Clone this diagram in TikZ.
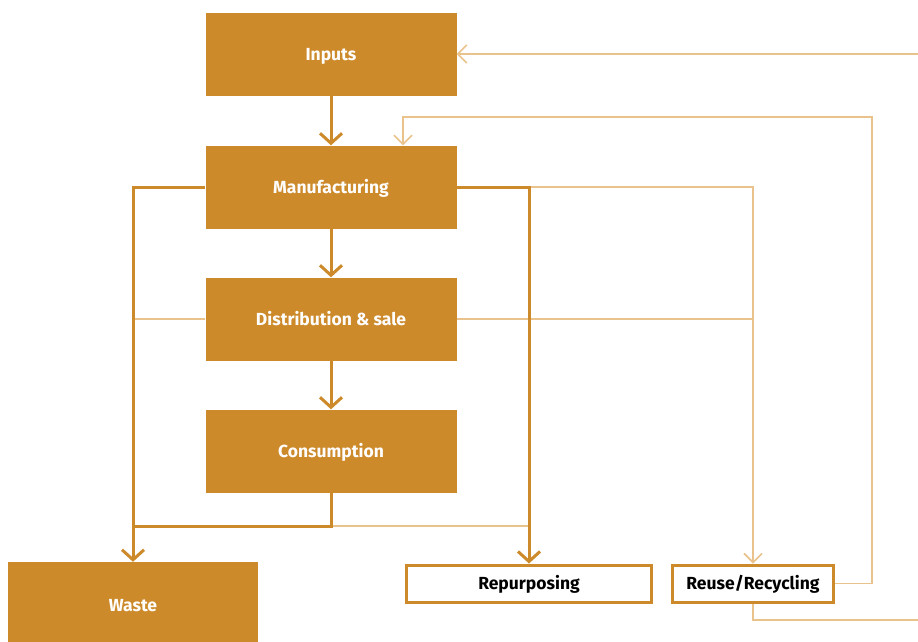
\documentclass[tikz,border=0pt]{standalone}
\usepackage{fontspec}
\setmainfont{Fira Sans}
\usetikzlibrary{arrows.meta}
\definecolor{ochre}{HTML}{CD8A2A}
\definecolor{lightochre}{HTML}{EAC38C}
\tikzset{
    stage/.style={fill=ochre, text=white, font=\bfseries\fontsize{17.5}{20}\selectfont, text height=12pt, text depth=0pt, minimum width=251pt, minimum height=83pt, inner sep=0pt},
    outcome/.style={draw=ochre, line width=3pt, fill=white, text=black, font=\bfseries\fontsize{17.5}{20}\selectfont, text height=12pt, text depth=0pt, minimum height=37pt, inner sep=0pt},
    flow/.style={draw=ochre, line width=3pt, -{Straight Barb[length=10pt,width=22pt,line width=3pt]}},
    flowline/.style={draw=ochre, line width=3pt},
    loop/.style={draw=lightochre, line width=1.6pt},
    looparrow/.style={loop, -{Straight Barb[length=9pt,width=18pt,line width=1.6pt]}}
}
\begin{document}
\begin{tikzpicture}[x=1pt, y=-1pt]
    \useasboundingbox (0,0) rectangle (918,641);
    % Draw nodes
    \node[stage] (inputs) at (331, 54) {Inputs};
    \node[stage] (manuf) at (331, 187) {Manufacturing};
    \node[stage] (dist) at (331, 319) {Distribution \& sale};
    \node[stage] (cons) at (331, 451) {Consumption};
    \node[stage, minimum width=250pt, minimum height=86pt] (waste) at (133, 605) {Waste};
    \node[outcome, minimum width=245pt] (repurp) at (529, 583.5) {Repurposing};
    \node[outcome, minimum width=161pt] (reuse) at (753, 583.5) {Reuse/Recycling};

    \coordinate (cjoin) at (331, 526);
    \coordinate (loopc) at (872, 117);
    \coordinate (inR) at (918, 54);
    \coordinate (outR) at (918, 620);

    % Draw light edges
    \draw[looparrow] (inR) -- (inputs.east);
    \draw[looparrow] (reuse.east) -| (loopc) -| ([xshift=72pt]manuf.north);
    \draw[loop] (reuse.south) |- (outR);
    \draw[loop] (dist.west) -- (dist.west -| waste);
    \draw[loop] (dist.east) -- (dist.east -| reuse);
    \draw[looparrow] (manuf.east -| repurp) -| (reuse.north);
    \draw[loop] (cjoin) -- (cjoin -| repurp);

    % Draw dark edges
    \draw[flow] (inputs) -- (manuf);
    \draw[flow] (manuf) -- (dist);
    \draw[flow] (dist) -- (cons);
    \draw[flow] (manuf.west) -| (waste.north);
    \draw[flow] (manuf.east) -| (repurp.north);
    \draw[flowline] (cons) -- (cjoin) -- (cjoin -| waste);
\end{tikzpicture}
\end{document}
